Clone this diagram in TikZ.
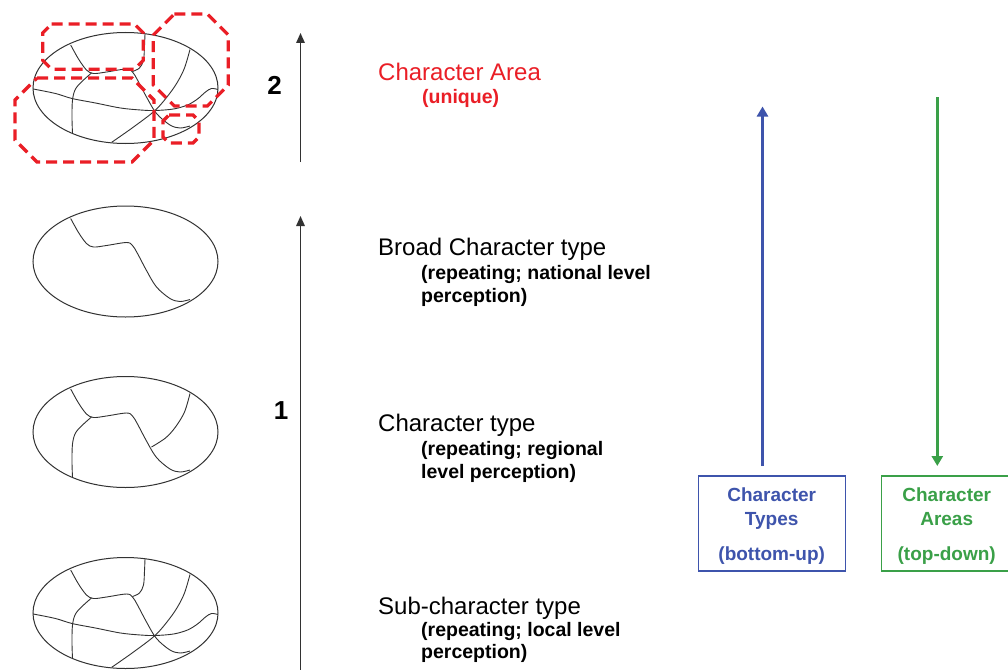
\documentclass[tikz,border=0pt]{standalone}
\usepackage{fontspec}
\setmainfont{Liberation Sans}
\usetikzlibrary{arrows.meta,shapes.geometric}

\definecolor{areared}{RGB}{234,30,38}
\definecolor{typeblue}{RGB}{62,84,172}
\definecolor{areagreen}{RGB}{58,160,72}
\definecolor{ink}{RGB}{50,50,50}

\tikzset{
  region/.style={draw=ink, line width=1pt, ellipse, minimum width=185pt,
                 minimum height=111pt, inner sep=0pt},
  seam/.style={draw=ink, line width=0.9pt},
  areaoutline/.style={draw=areared, line width=3.2pt, dash pattern=on 11pt off 6pt},
  title/.style={anchor=base west, inner sep=0pt, font=\fontsize{24}{28}\selectfont},
  note/.style={anchor=base west, inner sep=0pt, font=\bfseries\fontsize{19.5}{23}\selectfont},
  levelnum/.style={anchor=base, inner sep=0pt, font=\bfseries\fontsize{26}{30}\selectfont},
  level/.style={draw=ink, line width=1.5pt, -{Triangle[width=8.5pt,length=10pt]}},
  flow/.style={line width=3.2pt, -{Triangle[width=11pt,length=10pt]}},
  approach/.style={line width=1.3pt, minimum height=95pt, inner sep=0pt},
  boxline/.style={anchor=base, inner sep=0pt, font=\bfseries\fontsize{19}{23}\selectfont},
}

% boundary lines inside a region, given relative to the region centre
\newcommand\seamS{\draw[seam] plot[smooth,tension=0.55] coordinates {(-54.8,-43) (-47,-29) (-39,-18) (-32,-14.5) (-19,-16) (1,-19) (7,-16) (12,-8) (21,9) (31,25.5) (44.5,37) (54.5,40) (64.5,38)};}
\newcommand\seamTop{\draw[seam] plot[smooth,tension=0.55] coordinates {(19.5,-54) (19,-42) (18,-28) (14,-20) (7,-16.5)};}
\newcommand\seamLeft{\draw[seam] plot[smooth,tension=0.55] coordinates {(-34,-15) (-43,-7) (-50,1) (-53,12) (-53.5,30) (-53,45)};}
\newcommand\seamAcross{\draw[seam] plot[smooth,tension=0.55] coordinates {(-92.3,1) (-70,5.5) (-53.5,10.5) (-30,15) (-5,20) (15,22) (29.5,22.5) (48,21) (62,17) (72,11) (80,4) (86,0.5) (92.3,1.5)};}
\newcommand\seamDiag{\draw[seam] plot[smooth,tension=0.55] coordinates {(64.5,-38.5) (59,-20) (52,-6) (43,7) (29.5,22.5) (8,39) (-13.8,54.3)};}
\newcommand\seamDiagShort{\draw[seam] plot[smooth,tension=0.55] coordinates {(64.5,-38.5) (59,-20) (50,-5) (40,6) (26,15)};}

% dashed outline with cut corners: x1, y1, x2, y2, corner
\newcommand\chamferbox[5]{\draw[areaoutline] ({#1+#5},#2) -- ({#3-#5},#2) -- (#3,{#2+#5}) -- (#3,{#4-#5}) -- ({#3-#5},#4) -- ({#1+#5},#4) -- (#1,{#4-#5}) -- (#1,{#2+#5}) -- cycle;}

\begin{document}
\begin{tikzpicture}[x=1pt,y=-1pt]
\path[use as bounding box, fill=white] (0,0) rectangle (1008,669);
\clip (0,0) rectangle (1008,669);

% regions
\node[region] (e1) at (125.5,88) {};
\node[region] (e2) at (125.5,261.5) {};
\node[region] (e3) at (125.5,432) {};
\node[region] (e4) at (125.5,613) {};

\begin{scope}[shift={(e1.center)}]
  \seamS \seamTop \seamLeft \seamAcross \seamDiag
\end{scope}
\begin{scope}[shift={(e2.center)}]
  \seamS
\end{scope}
\begin{scope}[shift={(e3.center)}]
  \seamS \seamLeft \seamDiagShort
\end{scope}
\begin{scope}[shift={(e4.center)}]
  \seamS \seamTop \seamLeft \seamAcross \seamDiag
\end{scope}

% character areas
\chamferbox{42.7}{24}{143.3}{69.3}{9}
\chamferbox{153.3}{14}{228.3}{106}{21}
\chamferbox{15}{78}{154}{162}{22}
\chamferbox{163}{115}{199}{143}{6}

% level arrows
\coordinate (l2s) at (300.5,162);
\coordinate (l2e) at (300.5,33);
\draw[level] (l2s) -- (l2e);
\coordinate (l1s) at (300.5,672);
\coordinate (l1e) at (300.5,216);
\draw[level] (l1s) -- (l1e);
\node[levelnum] (n2) at (274.5,94) {2};
\node[levelnum] (n1) at (281,419) {1};

% labels
\node[title, text=areared] (tArea) at (378,80) {Character Area};
\node[note, text=areared] (tUnique) at (422,103) {(unique)};

\node[title] (tBroad) at (378,255) {Broad Character type};
\node[note] (tBroadA) at (421,279) {(repeating; national level};
\node[note] (tBroadB) at (421,302) {perception)};

\node[title] (tType) at (378,431) {Character type};
\node[note] (tTypeA) at (421,455) {(repeating; regional};
\node[note] (tTypeB) at (421,478) {level perception)};

\node[title] (tSub) at (378,614) {Sub-character type};
\node[note] (tSubA) at (421,636) {(repeating; local level};
\node[note] (tSubB) at (421,658) {perception)};

% approaches
\node[approach, draw=typeblue, minimum width=147.4pt] (bTypes) at (772,523.5) {};
\node[boxline, text=typeblue] (bT1) at (771.7,501.7) {Character};
\node[boxline, text=typeblue] (bT2) at (771.7,525.5) {Types};
\node[boxline, text=typeblue] (bT3) at (771.7,560) {(bottom-up)};

\node[approach, draw=areagreen, minimum width=129.5pt] (bAreas) at (946.5,523.5) {};
\node[boxline, text=areagreen] (bA1) at (946.7,501.7) {Character};
\node[boxline, text=areagreen] (bA2) at (946.7,525.5) {Areas};
\node[boxline, text=areagreen] (bA3) at (946.7,560) {(top-down)};

\coordinate (upS) at (762.5,466);
\coordinate (upE) at (762.5,106.5);
\draw[flow, draw=typeblue, fill=typeblue] (upS) -- (upE);
\coordinate (dnS) at (937.3,97);
\coordinate (dnE) at (937.3,466);
\draw[flow, draw=areagreen, fill=areagreen] (dnS) -- (dnE);
\end{tikzpicture}
\end{document}
